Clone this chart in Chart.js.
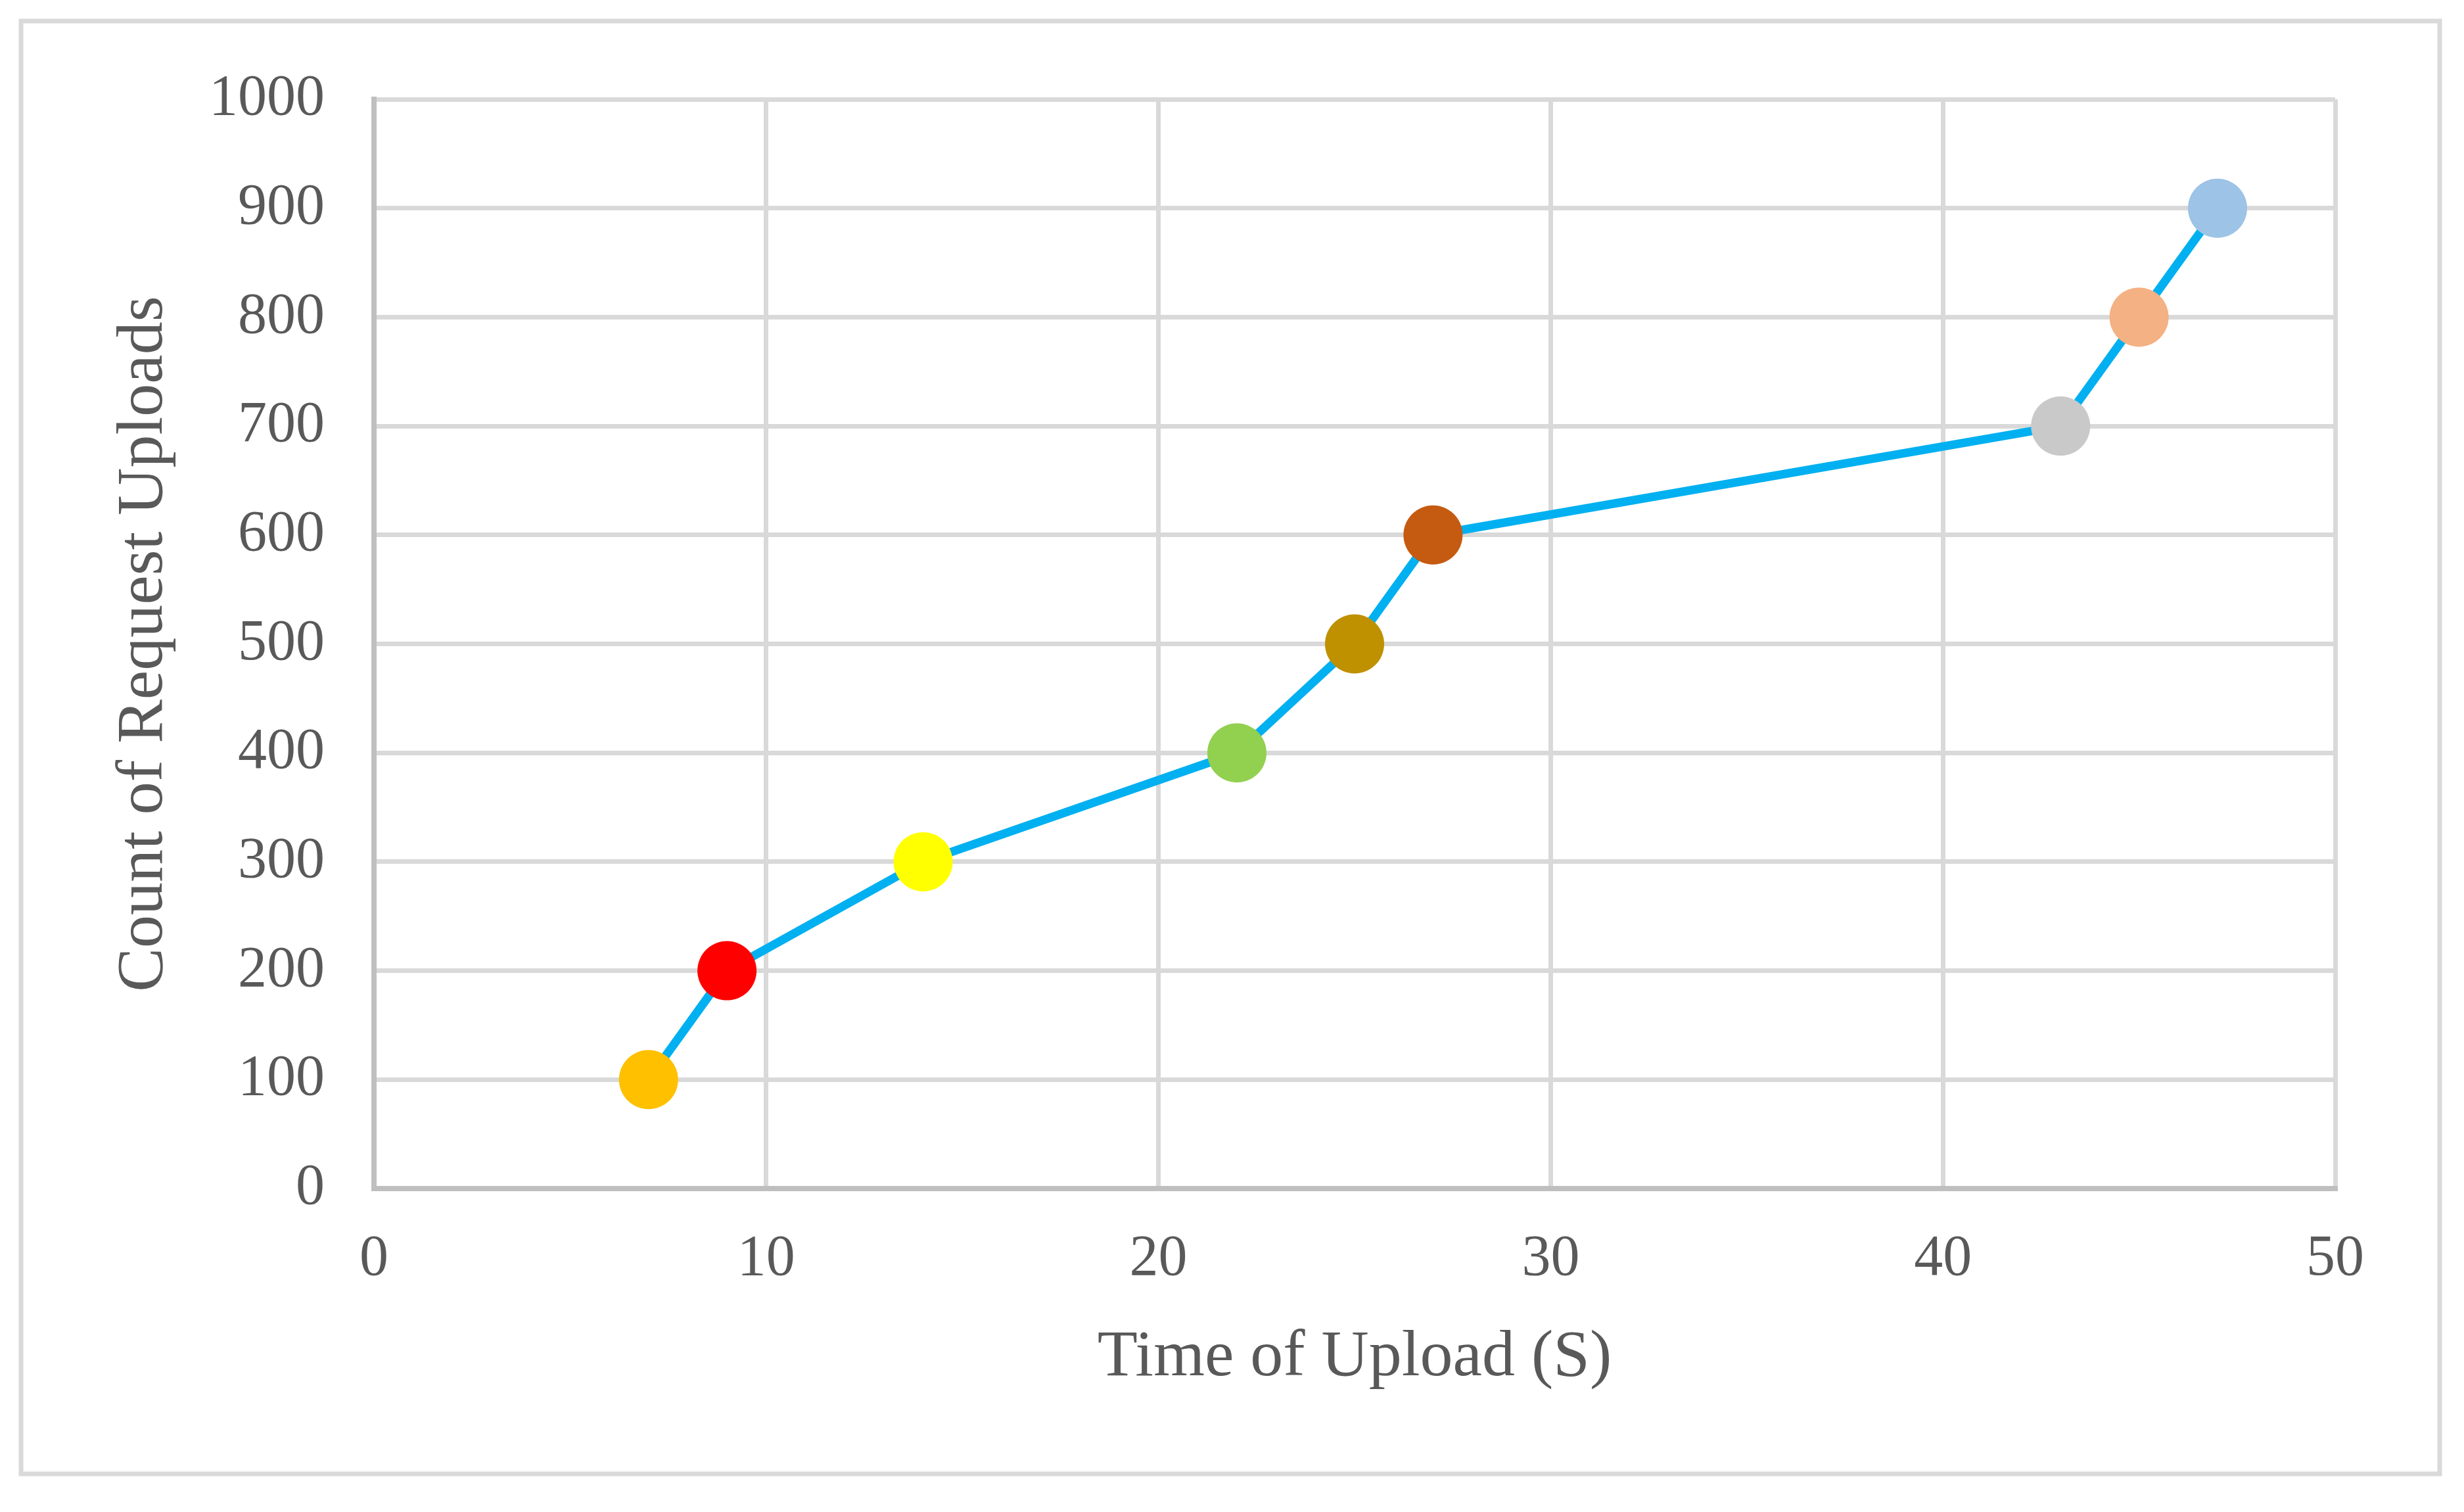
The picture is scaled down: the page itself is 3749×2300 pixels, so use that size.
<!DOCTYPE html>
<html>
<head>
<meta charset="utf-8">
<script src="https://cdn.jsdelivr.net/npm/chart.js@4"></script>
<style>
  body { margin: 0; background: #fff; }
</style>
</head>
<body>
<canvas id="chart" width="3749" height="2300"></canvas>
<script>
// data
var uploadTimes = [7, 9, 14, 22, 25, 27, 43, 45, 47];
var requestCounts = [100, 200, 300, 400, 500, 600, 700, 800, 900];
var pointColors = ['#FFC000', '#FF0000', '#FFFF00', '#92D050', '#BF9000', '#C55A11', '#C9C9C9', '#F4B183', '#9DC3E6'];

var points = [];
for (var i = 0; i < uploadTimes.length; i++) {
  points.push({x: uploadTimes[i], y: requestCounts[i]});
}

var tickFont = {family: 'Liberation Serif', size: 88};
var titleFont = {family: 'Liberation Serif', size: 100};

// light grey frame around the whole chart
var framePlugin = {
  id: 'frame',
  beforeDraw: function(chart) {
    var ctx = chart.ctx;
    ctx.save();
    ctx.fillStyle = '#fff';
    ctx.fillRect(0, 0, chart.width, chart.height);
    ctx.strokeStyle = '#D9D9D9';
    ctx.lineWidth = 7;
    ctx.strokeRect(32, 32, 3680, 2210);
    ctx.restore();
  }
};

new Chart(document.getElementById('chart'), {
  type: 'scatter',
  data: {
    datasets: [{
      data: points,
      showLine: true,
      borderColor: '#00B0F0',
      borderWidth: 13,
      pointRadius: 45,
      pointHoverRadius: 45,
      pointBorderWidth: 0,
      pointBackgroundColor: pointColors
    }]
  },
  options: {
    responsive: false,
    devicePixelRatio: 1,
    animation: false,
    layout: {padding: {top: 151, right: 196, left: 0, bottom: 0}},
    plugins: {legend: {display: false}, tooltip: {enabled: false}},
    scales: {
      x: {
        type: 'linear', min: 0, max: 50,
        ticks: {stepSize: 10, font: tickFont, color: '#595959', padding: 55},
        grid: {color: '#D9D9D9', lineWidth: 7, drawTicks: false},
        border: {color: '#BFBFBF', width: 8},
        title: {display: true, text: 'Time of Upload (S)', font: titleFont, color: '#595959', padding: {top: 174, bottom: 174}},
        afterFit: function(scale) { scale.height = 492; }
      },
      y: {
        min: 0, max: 1000,
        ticks: {stepSize: 100, font: tickFont, color: '#595959', padding: 75,
          callback: function(value) { return String(value); }},
        grid: {color: '#D9D9D9', lineWidth: 7, drawTicks: false},
        border: {color: '#BFBFBF', width: 8},
        title: {display: true, text: 'Count of Request Uploads', font: titleFont, color: '#595959', padding: {top: 160, bottom: 160}},
        afterFit: function(scale) { scale.width = 569; }
      }
    }
  },
  plugins: [framePlugin]
});
</script>
</body>
</html>
